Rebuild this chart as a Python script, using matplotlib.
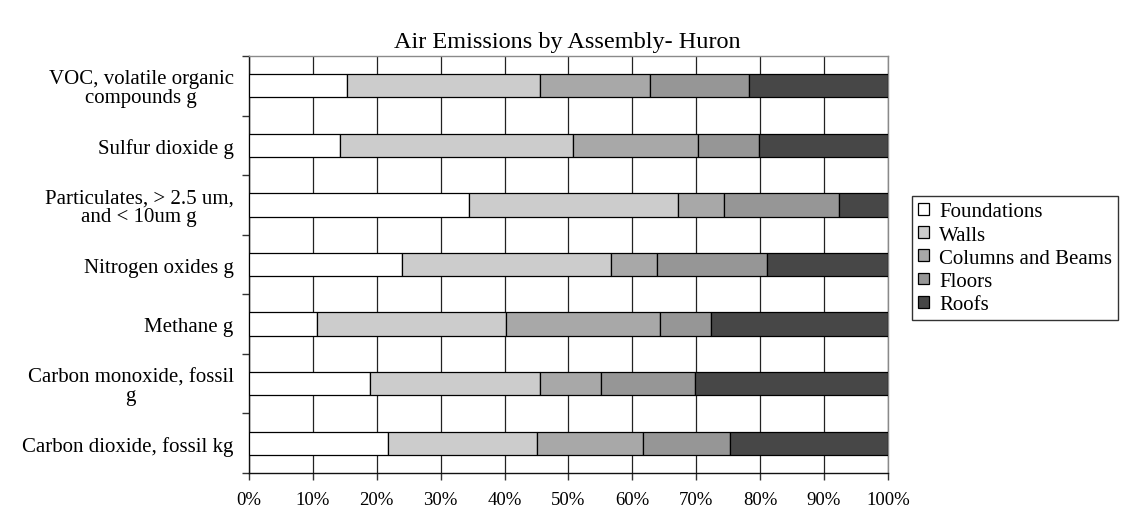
import matplotlib
matplotlib.use("Agg")
import matplotlib.pyplot as plt
import numpy as np

plt.rcParams['font.family'] = ['Liberation Serif', 'DejaVu Serif']

categories = [
    "VOC, volatile organic\ncompounds g",
    "Sulfur dioxide g",
    "Particulates, > 2.5 um,\nand < 10um g",
    "Nitrogen oxides g",
    "Methane g",
    "Carbon monoxide, fossil\ng",
    "Carbon dioxide, fossil kg",
]
series_names = ["Foundations", "Walls", "Columns and Beams", "Floors", "Roofs"]
foundations = [15.3, 14.2, 34.5, 23.9, 10.6, 19.0, 21.7]
walls = [30.2, 36.5, 32.7, 32.8, 29.7, 26.5, 23.3]
columns_beams = [17.3, 19.6, 7.1, 7.2, 24.0, 9.6, 16.6]
floors = [15.5, 9.5, 18.1, 17.1, 8.0, 14.7, 13.7]
roofs = [21.7, 20.2, 7.6, 19.0, 27.7, 30.2, 24.7]
series_colors = ["#ffffff", "#cccccc", "#a8a8a8", "#969696", "#474747"]
x_ticks = [0, 10, 20, 30, 40, 50, 60, 70, 80, 90, 100]

fig = plt.figure(figsize=(11.28, 5.10), dpi=100)
ax = fig.add_axes([0.2207, 0.0706, 0.5665, 0.8176])

y = np.arange(len(categories))
left = np.zeros(len(categories))
for name, vals, col in zip(series_names,
                           [foundations, walls, columns_beams, floors, roofs],
                           series_colors):
    ax.barh(y, vals, left=left, height=0.39, color=col, edgecolor="black",
            linewidth=0.9, label=name, zorder=3)
    left = left + np.array(vals)

ax.set_ylim(len(categories) - 0.5, -0.5)
ax.set_xlim(0, 100)
ax.set_yticks(y)
ax.set_yticklabels(categories, fontsize=15, multialignment="center",
                   linespacing=1.0)
ax.set_xticks(x_ticks)
ax.set_xticklabels([f"{t}%" for t in x_ticks], fontsize=13.5)
ax.set_yticks(np.arange(len(categories) + 1) - 0.5, minor=True)
ax.tick_params(axis="y", which="major", length=0, pad=11)
ax.tick_params(axis="y", which="minor", length=5, width=1.0, direction="out",
               color="#333333")
ax.tick_params(axis="x", length=5, width=1.0, direction="out", pad=8,
               color="#333333")

ax.grid(axis="x", color="#222222", linewidth=0.9, zorder=0)
ax.set_axisbelow(True)
for side in ["left", "bottom"]:
    ax.spines[side].set_color("#111111")
    ax.spines[side].set_linewidth(1.0)
for side in ["top", "right"]:
    ax.spines[side].set_color("#8a8a8a")
    ax.spines[side].set_linewidth(1.0)

fig.text(0.503, 0.916, "Air Emissions by Assembly- Huron", ha="center",
         va="center", fontsize=17.5)

leg = fig.legend(loc="upper left", bbox_to_anchor=(0.8085, 0.6135),
                 fontsize=15, frameon=True, fancybox=False, edgecolor="black",
                 handlelength=0.5, handleheight=0.5, handletextpad=0.5,
                 labelspacing=0.2, borderpad=0.3, borderaxespad=0)
leg.get_frame().set_linewidth(1.0)

fig.savefig("out.png", dpi=100, facecolor="white")
